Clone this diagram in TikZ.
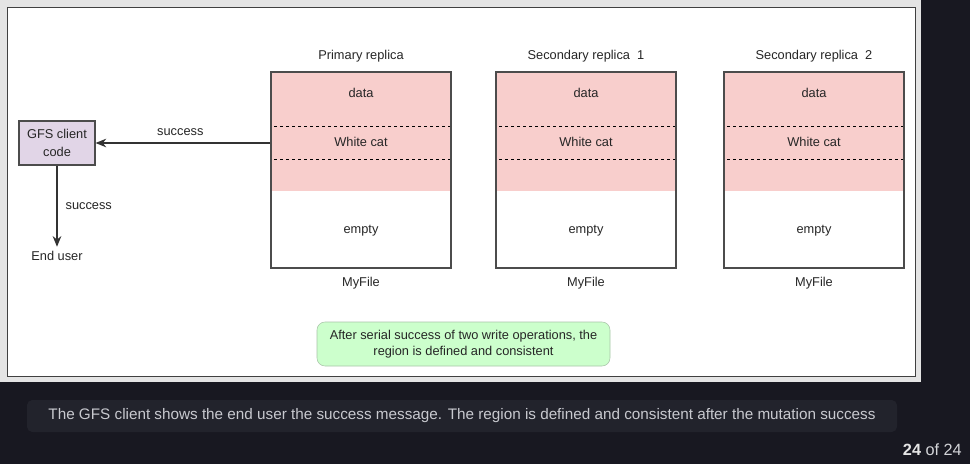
\documentclass[tikz,border=0pt]{standalone}
\usepackage{fontspec}
\setmainfont{Liberation Sans}
\usetikzlibrary{arrows.meta,positioning}
\definecolor{pagebg}{HTML}{181821}
\definecolor{framegray}{HTML}{E4E4E4}
\definecolor{chunkpink}{HTML}{F8CECC}
\definecolor{clientpurple}{HTML}{E1D5E7}
\definecolor{notegreen}{HTML}{CCFFCC}
\definecolor{notedraw}{HTML}{A9C4A9}
\definecolor{capbg}{HTML}{22232C}
\definecolor{captext}{HTML}{C8C9CF}
\begin{document}
\begin{tikzpicture}[x=0.75pt,y=-0.75pt,font=\fontsize{9.6}{13.5}\selectfont,
    lbl/.style={inner sep=0pt,text height=7pt,text depth=2pt,text=black!85},
    box/.style={draw=black!70,line width=0.9pt},
    link/.style={draw=black!80,line width=0.9pt,-{Stealth[length=8pt,width=6.5pt]}}]
                \fill[pagebg] (0,0) rectangle (970,464);
                \useasboundingbox (0,0) rectangle (970,464);
                \fill[framegray] (0,0) rectangle (921,382);
                \draw[fill=white,draw=black!75,line width=0.75pt] (7,7) rectangle (915,376);
                \node[box,fill=clientpurple,minimum width=57pt,minimum height=33pt,align=center,inner sep=1pt,text=black!85] (client) at (57,143) {GFS client\\code};
                \node[lbl,inner sep=3pt] (user) at (57,257) {End user};
                \foreach \cx/\id/\title in {361/pri/Primary replica,586/secA/{Secondary replica\ \ 1},814/secB/{Secondary replica\ \ 2}}{
                    \fill[chunkpink] (\cx-90,72) rectangle (\cx+90,191);
                    \draw[dash pattern=on 2.5pt off 2pt,line width=0.75pt] (\cx-90,126) rectangle (\cx+90,159);
                    \node[box,minimum width=135pt,minimum height=147pt] (\id) at (\cx,170) {};
                    \node[lbl] (\id-data) at (\cx,94.5) {data};
                    \node[lbl] (\id-cat) at (\cx,143.5) {White cat};
                    \node[lbl] (\id-empty) at (\cx,230) {empty};
                    \node[lbl] (\id-title) at (\cx,56) {\title};
                    \node[lbl] (\id-file) at (\cx,283.5) {MyFile};
                }
                \draw[link] (pri.west |- client) -- (client) node[midway,above=3pt,lbl,xshift=-2pt] {success};
                \draw[link] (client) -- (user) node[midway,right=6pt,lbl] {success};
                \node[draw=notedraw,fill=notegreen,rounded corners=6pt,minimum width=219.75pt,minimum height=33pt,align=center,font=\fontsize{9.6}{12}\selectfont,text=black!85] (note) at (463.5,344) {After serial success of two write operations, the\\region is defined and consistent};
                \node[fill=capbg,rounded corners=4pt,minimum width=652.5pt,minimum height=24pt,text=captext,font=\fontsize{11.45}{14}\selectfont] (caption) at (462,416) {The GFS client shows the end user the success message. The region is defined and consistent after the mutation success};
                \node[anchor=east,inner sep=0pt,text=captext!80,font=\fontsize{12.2}{14}\selectfont] (pager) at (962,450) {\textcolor{white!90!black}{\textbf{24}} of 24};
\end{tikzpicture}
\end{document}
